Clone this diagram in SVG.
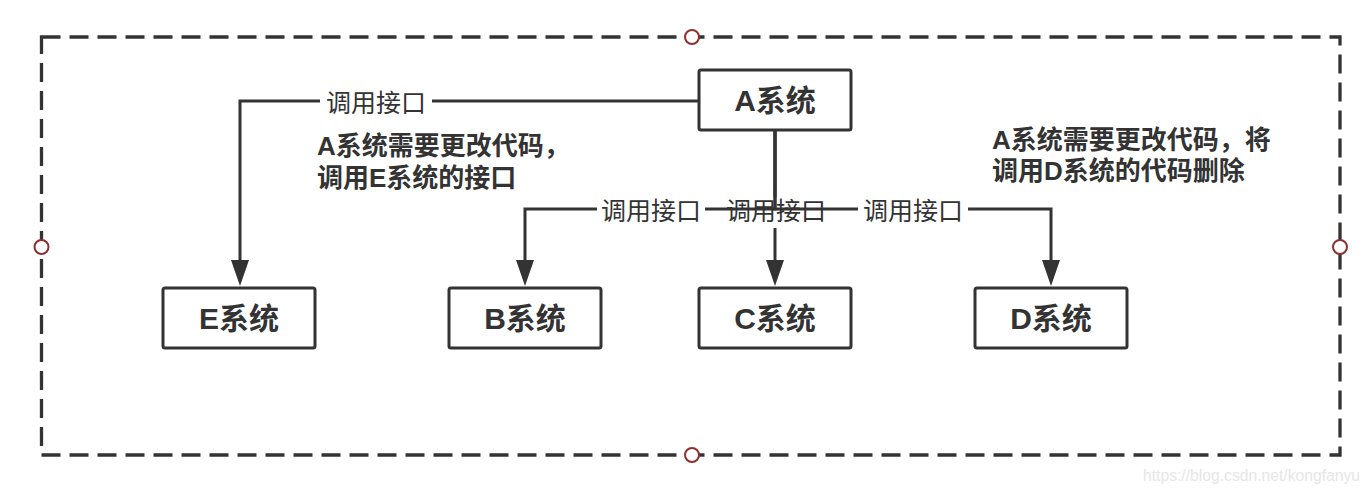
<svg xmlns="http://www.w3.org/2000/svg" width="1368" height="492" viewBox="0 0 1368 492">
<style>
.box{fill:#fff;stroke:#333;stroke-width:3}
.ntext{font-family:"Liberation Sans","Noto Sans CJK SC",sans-serif;font-size:30px;font-weight:bold;fill:#333;text-anchor:middle}
.edge{fill:none;stroke:#333;stroke-width:3}
.lbg{fill:#fff}
.ltext{font-family:"Liberation Sans","Noto Sans CJK SC",sans-serif;font-size:25px;fill:#333;text-anchor:middle}
.note{font-family:"Liberation Sans","Noto Sans CJK SC",sans-serif;font-size:26px;font-weight:bold;fill:#333}
.handle{fill:#fff;stroke:#8f2f2f;stroke-width:2}
</style>
<defs>
<marker id="arr" markerUnits="userSpaceOnUse" markerWidth="28" markerHeight="20" refX="0" refY="9" orient="auto" viewBox="0 0 28 20">
<path d="M0 0 L26 9 L0 18 Z" fill="#333"/>
</marker>
</defs>
<rect width="1368" height="492" fill="#fff"/>
<g id="frame">
<rect x="41.5" y="37" width="1298.5" height="418" fill="none" stroke="#333" stroke-width="3.3" stroke-dasharray="19 9"/>
<circle class="handle" cx="692" cy="37" r="7"/>
<circle class="handle" cx="692" cy="455" r="7"/>
<circle class="handle" cx="41.5" cy="247" r="7"/>
<circle class="handle" cx="1340" cy="247" r="7"/>
</g>
<g id="connectors">
<g id="edge-A-C">
<path class="edge" d="M775 130 V260" marker-end="url(#arr)"/>
<rect class="lbg" x="722" y="197" width="108" height="31"/>
<text class="ltext" x="776" y="220">调用接口</text>
</g>
<g id="edge-A-E">
<path class="edge" d="M699 101 H240 V260" marker-end="url(#arr)"/>
<rect class="lbg" x="320" y="89" width="112" height="28"/>
<text class="ltext" x="376" y="112">调用接口</text>
</g>
<g id="edge-A-B">
<path class="edge" d="M775 130 V209 H525 V260" marker-end="url(#arr)"/>
<rect class="lbg" x="597" y="197" width="108" height="28"/>
<text class="ltext" x="651" y="220">调用接口</text>
</g>
<g id="edge-A-D">
<path class="edge" d="M775 130 V209 H1051 V260" marker-end="url(#arr)"/>
<rect class="lbg" x="858" y="197" width="110" height="28"/>
<text class="ltext" x="913" y="220">调用接口</text>
</g>
</g>
<g id="node-A">
<rect class="box" x="699" y="70" width="152" height="60" rx="2"/>
<text class="ntext" x="775" y="111">A系统</text>
</g>
<g id="node-E">
<rect class="box" x="163" y="288" width="152" height="60" rx="2"/>
<text class="ntext" x="239" y="329">E系统</text>
</g>
<g id="node-B">
<rect class="box" x="449" y="288" width="152" height="60" rx="2"/>
<text class="ntext" x="525" y="329">B系统</text>
</g>
<g id="node-C">
<rect class="box" x="699" y="288" width="152" height="60" rx="2"/>
<text class="ntext" x="775" y="329">C系统</text>
</g>
<g id="node-D">
<rect class="box" x="975" y="288" width="152" height="60" rx="2"/>
<text class="ntext" x="1051" y="329">D系统</text>
</g>
<g id="note-E">
<text class="note" x="317" y="155">A系统需要更改代码，</text>
<text class="note" x="317" y="187">调用E系统的接口</text>
</g>
<g id="note-D">
<text class="note" x="992" y="149">A系统需要更改代码，将</text>
<text class="note" x="992" y="180">调用D系统的代码删除</text>
</g>
<text x="1143" y="481" font-family="'Liberation Sans Narrow','Liberation Sans',sans-serif" font-size="16" fill="#e6e6e6" textLength="217" lengthAdjust="spacingAndGlyphs">https://blog.csdn.net/kongfanyu</text>
</svg>
